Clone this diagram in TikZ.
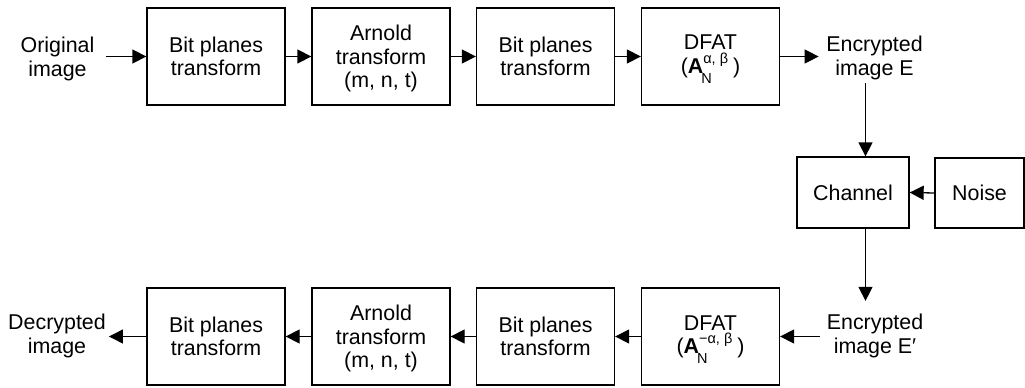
\documentclass[tikz,border=0pt]{standalone}
\usepackage{fontspec}
\setmainfont{Liberation Sans}
\usetikzlibrary{arrows.meta}

% small size for matrix indices
\newcommand{\idxsize}{\fontsize{14.5}{14.5}\selectfont}
% bold matrix A with subscript N and a superscript pair
\newcommand{\dfatmat}[1]{\textbf{A}\rlap{\hspace{-2pt}\raisebox{-10pt}[0pt][0pt]{\idxsize N}}\raisebox{10pt}[0pt][0pt]{\idxsize #1}\hspace{5pt}}
% first line of the Arnold boxes sits a little lower
\newcommand{\arnoldtext}{\rule{0pt}{19.5pt}Arnold\\transform\\(m, n, t)}

\tikzset{
  blk/.style={draw, line width=1.3pt, minimum width=138pt, minimum height=97pt,
              inner sep=0pt, align=center},
  lbl/.style={inner sep=0pt, align=center},
  arr/.style={line width=1.3pt, -{Triangle[length=14pt,width=14pt]}},
}

\begin{document}
\begin{tikzpicture}[x=1pt, y=-1pt, font=\fontsize{21.4}{23.3}\selectfont]
  \useasboundingbox (0,0) rectangle (1025,388);

  % encryption chain
  \node[lbl] (orig) at (57.5,59) {Original\\image};
  \node[blk] (b1) at (216,56.5) {Bit planes\\transform};
  \node[blk] (b2) at (381,56.5) {\arnoldtext};
  \node[blk] (b3) at (545.5,56.5) {Bit planes\\transform};
  \node[blk] (b4) at (710.5,56.5) {DFAT\\(\dfatmat{α, β})};
  \node[lbl] (enc) at (874.5,58) {Encrypted\\image E};

  % channel with noise
  \node[draw, line width=1.3pt, minimum width=112pt, minimum height=71pt, inner sep=0pt]
       (ch) at (853,192.5) {Channel};
  \node[draw, line width=1.3pt, minimum width=89pt, minimum height=70pt, inner sep=0pt]
       (no) at (979.5,193) {Noise};

  % decryption chain
  \node[lbl] (enc2) at (875,336) {Encrypted\\image E′};
  \node[blk] (d4) at (710.5,336.5) {DFAT\\(\dfatmat{−α, β})};
  \node[blk] (d3) at (545.5,336.5) {Bit planes\\transform};
  \node[blk] (d2) at (381,336.5) {\arnoldtext};
  \node[blk] (d1) at (216,336.5) {Bit planes\\transform};
  \node[lbl] (dec) at (57,336) {Decrypted\\image};

  % connector end points
  \coordinate (origR) at ([xshift=11pt]orig.east);
  \coordinate (encL) at ([xshift=-7.5pt]enc.west);
  \coordinate (encS) at ([xshift=-9pt,yshift=-3.5pt]enc.south);
  \coordinate (enc2N) at ([yshift=13.3pt]enc2.north);
  \coordinate (enc2W) at ([xshift=-7pt]enc2.west);
  \coordinate (decR) at ([xshift=3pt]dec.east);

  % top row
  \draw[arr] (b1.west -| origR) -- (b1.west);
  \draw[arr] (b1.east) -- (b2.west);
  \draw[arr] (b2.east) -- (b3.west);
  \draw[arr] (b3.east) -- (b4.west);
  \draw[arr] (b4.east) -- (b4.east -| encL);

  % right column
  \draw[arr] (encS) -- (encS |- ch.north);
  \draw[arr] (no.west) -- (ch.west -| ch.east);
  \draw[arr] (encS |- ch.south) -- (encS |- enc2N);

  % bottom row
  \draw[arr] (enc2W |- d4.east) -- (d4.east);
  \draw[arr] (d4.west) -- (d3.east);
  \draw[arr] (d3.west) -- (d2.east);
  \draw[arr] (d2.west) -- (d1.east);
  \draw[arr] (d1.west) -- (d1.west -| decR);
\end{tikzpicture}
\end{document}
